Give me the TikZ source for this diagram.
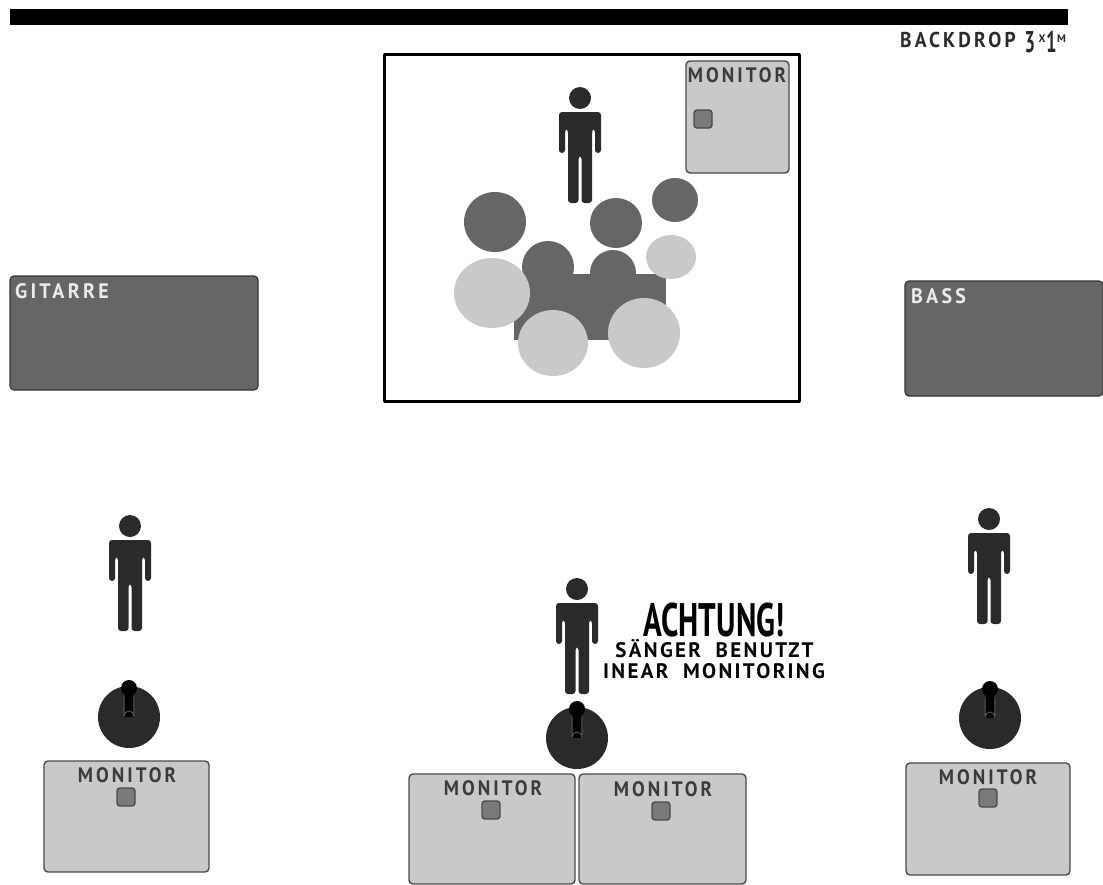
\documentclass[tikz,border=0pt]{standalone}
\usepackage{fontspec}
\usepackage{tikz}
\usetikzlibrary{positioning,shapes.geometric}
\newfontfamily\stagefont[LetterSpace=16]{PT Sans}
\newfontfamily\wideletters[LetterSpace=11]{PT Sans}
\newfontfamily\plainletters{PT Sans}
\definecolor{inkc}{HTML}{2A2A2A}
\definecolor{darkc}{HTML}{666666}
\definecolor{lightc}{HTML}{C9C9C9}
\definecolor{edgec}{HTML}{4A4A4A}
\tikzset{
  drumdark/.style={ellipse,fill=darkc,inner sep=0pt},
  drumlight/.style={ellipse,fill=lightc,inner sep=0pt},
  monbox/.style={draw=edgec,line width=1.4pt,fill=lightc,rounded corners=4pt},
  ampbox/.style={draw=edgec!70!black,line width=1.2pt,fill=darkc,rounded corners=4pt},
  monlabel/.style={text=edgec!80!black,font=\stagefont\bfseries\fontsize{19}{19}\selectfont,inner sep=0pt,yscale=1.1},
  amplabel/.style={text=white!92!black,font=\stagefont\bfseries\fontsize{20}{20}\selectfont,inner sep=0pt,anchor=base west,yscale=1.05},
  notetext/.style={inner sep=0pt,anchor=base,text=black,text height=15pt,text depth=0pt,font=\wideletters\bfseries\fontsize{21}{21}\selectfont},
  person/.pic={
    \fill[inkc] (0,0) circle (11);
    \fill[inkc,rounded corners=3pt] (-21,14) -- (21,14) -- (21,55) -- (15,55) -- (15,31) -- (12,31) -- (12,105) -- (1.5,105) -- (1.5,58) -- (-1.5,58) -- (-1.5,105) -- (-12,105) -- (-12,31) -- (-15,31) -- (-15,55) -- (-21,55) -- cycle;
  },
  micstand/.pic={
    \fill[inkc] (0,0) circle (31);
    \fill[black] (-4,-24) rectangle (4,0);
    \draw[gray!70!black,line width=0.9pt] (-5,-20) -- (-5,-1) arc (180:360:5) -- (5,-20);
    \fill[black] (0,-29) circle (8);
  }
}
\begin{document}
\begin{tikzpicture}[x=1pt,y=-1pt,line join=round]
  \useasboundingbox (0,0) rectangle (1103,884);
  % backdrop
  \fill[black] (10,9) rectangle (1068,25);
  \node[anchor=base west,inner sep=0pt,text=inkc,font=\stagefont\bfseries\fontsize{19.5}{19.5}\selectfont,yscale=1.1] (backdrop) at (900,47.5) {BACKDROP};
  \node[anchor=base west,inner sep=0pt,text=inkc,font=\plainletters\bfseries,xscale=0.62] (dimthree) at (1024.5,52) {\fontsize{30}{30}\selectfont 3};
  \node[anchor=base west,inner sep=0pt,text=inkc,font=\plainletters\bfseries\fontsize{11}{11}\selectfont] (dimx) at (1038.5,42) {X};
  \node[anchor=base west,inner sep=0pt,text=inkc,font=\plainletters\bfseries,xscale=0.62] (dimone) at (1046,52) {\fontsize{30}{30}\selectfont 1};
  \node[anchor=base west,inner sep=0pt,text=inkc,font=\plainletters\bfseries\fontsize{11}{11}\selectfont] (dimm) at (1057,42) {M};
  % riser with drums
  \draw[line width=3pt,fill=white] (384,54) rectangle (799,401);
  \fill[darkc] (514,274) rectangle (666,340);
  \foreach \n/\x/\y/\rx/\ry in {tomA/495/222/31/30,tomB/616/223/26/25,crash/675/200/23/22,tomC/548/267/26/26,tomD/613/273/23/23}{
    \node[drumdark,minimum width=2*\rx,minimum height=2*\ry] (\n) at (\x,\y) {};
  }
  \foreach \n/\x/\y/\rx/\ry in {floorA/492/293/38/35,floorB/553/343/35/33,floorC/644/333/36/35,ride/671/257/25/22}{
    \node[drumlight,minimum width=2*\rx,minimum height=2*\ry] (\n) at (\x,\y) {};
  }
  % amps
  \draw[ampbox] (10,276) rectangle (258,390);
  \node[amplabel] (gitarre) at (15,298) {GITARRE};
  \draw[ampbox] (905,281) rectangle (1103,396);
  \node[amplabel] (bass) at (911,303) {BASS};
  % monitors
  \foreach \n/\xa/\ya/\xb/\yb/\lx/\ly/\kx/\ky in {
    monDrums/686/61/789/173/737/75/703/119,
    monGit/44/761/209/872/127/775/126/797,
    monVocL/409/774/575/884/493/788/491/810,
    monVocR/579/774/746/884/663/789/661/811,
    monBass/906/763/1070/875/988/777/988/798}{
    \draw[monbox] (\xa,\ya) rectangle (\xb,\yb);
    \node[monlabel] (\n) at (\lx,\ly) {MONITOR};
    \draw[edgec,line width=1.4pt,fill=darkc!80!lightc,rounded corners=3pt] (\kx-9,\ky-9) rectangle (\kx+9,\ky+9);
  }
  % people and mics
  \foreach \x/\y in {580/98,130/526,989/519,577/589}{
    \pic at (\x,\y) {person};
  }
  \foreach \x/\y in {129/717,990/718,577/738}{
    \pic at (\x,\y) {micstand};
  }
  % note
  \node[inner sep=0pt,anchor=base,text=black,text depth=0pt,font=\plainletters\bfseries\fontsize{47}{47}\selectfont,xscale=0.66] (achtung) at (714,636.5) {ACHTUNG!};
  \node[notetext] (saenger) at (714.5,657) {SÄNGER\hspace{7pt} BENUTZT};
  \node[notetext] (inear) at (714,678) {INEAR\hspace{7pt} MONITORING};
\end{tikzpicture}
\end{document}
